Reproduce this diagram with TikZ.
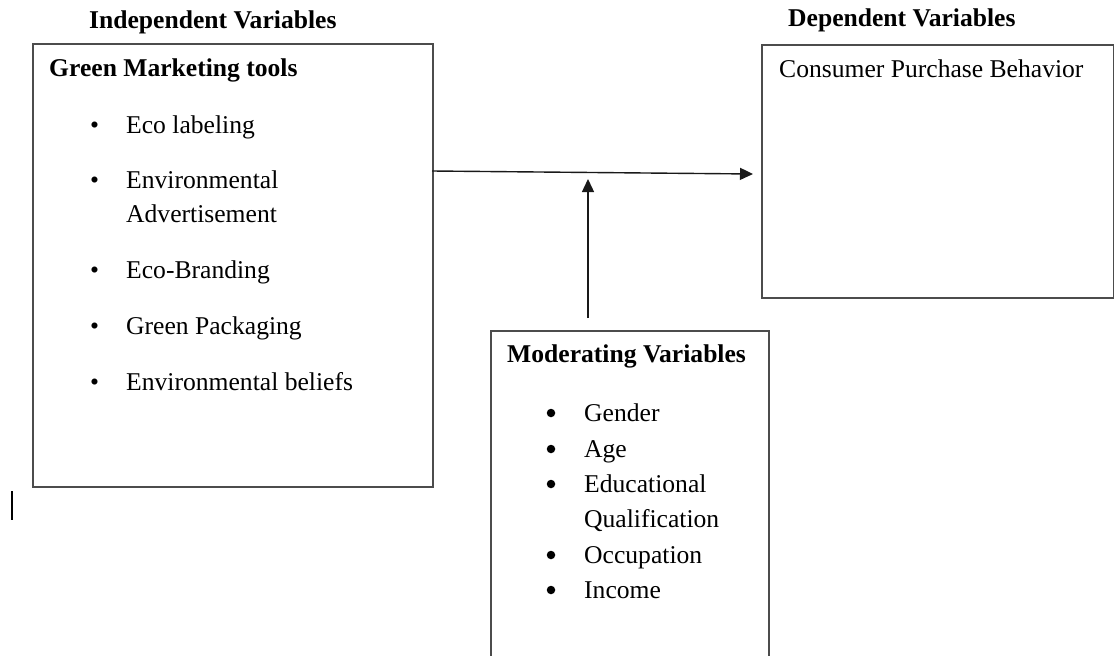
\documentclass[tikz,border=0pt]{standalone}
\usepackage{fontspec}
\setmainfont{Liberation Serif}
\usetikzlibrary{arrows.meta,positioning}

\newcommand{\varsize}{\fontsize{25.6}{34}\selectfont}
\tikzset{
    varbox/.style={draw=black!70, line width=1.6pt, inner sep=0pt, anchor=north west},
    heading/.style={font=\varsize\bfseries, anchor=base west, inner sep=0pt},
    item/.style={font=\varsize, anchor=base west, inner sep=0pt},
    dot/.style={circle, fill=black, inner sep=0pt, minimum size=8.5pt},
    link/.style={draw=black!90, line width=1.4pt, -{Triangle[length=13pt,width=12pt]}}
}

\begin{document}
\begin{tikzpicture}[x=1pt,y=-1pt]
            \useasboundingbox (0,0) rectangle (1114,656);
            \clip (0,0) rectangle (1114,656);
            \node[varbox, minimum width=400pt, minimum height=443pt] (indep) at (32,43) {};
            \node[varbox, minimum width=352pt, minimum height=253pt] (dep) at (761,44) {};
            \node[varbox, minimum width=278pt, minimum height=360pt] (moder) at (490,330) {};

            \node[heading] (indeptitle) at (89,28) {Independent Variables};
            \node[heading] (deptitle) at (788,26) {Dependent Variables};
            \node[heading] (gmtools) at (49,76) {Green Marketing tools};
            \node[item] (purchase) at (779,77) {Consumer Purchase Behavior};
            \node[heading] (modertitle) at (507,362) {Moderating Variables};

            \foreach \y/\txt [count=\i] in {133/Eco labeling, 188/Environmental, 278/Eco-Branding, 334/Green Packaging, 390/Environmental beliefs}{
                \node[item] (gmb\i) at (90,\y) {\textbullet};
                \node[item] (gm\i) at (126,\y) {\txt};
            }
            \node[item] (gm2b) at (126,222) {Advertisement};

            \foreach \y/\txt [count=\i] in {421/Gender, 457/Age, 492/Educational, 563/Occupation, 598/Income}{
                \node[dot] (mvb\i) at (551,\y-8) {};
                \node[item] (mv\i) at (584,\y) {\txt};
            }
            \node[item] (mv3b) at (584,527) {Qualification};

            \coordinate (hstart) at (432,171);
            \coordinate (hend) at (753,174);
            \coordinate (vstart) at (588,318);
            \coordinate (vend) at (588,179);
            \draw[link] (hstart) -- (hend);
            \draw[link] (vstart) -- (vend);

            \coordinate (cursortop) at (12,491);
            \coordinate (cursorbot) at (12,520);
            \draw[line width=1.3pt] (cursortop) -- (cursorbot);
\end{tikzpicture}
\end{document}
